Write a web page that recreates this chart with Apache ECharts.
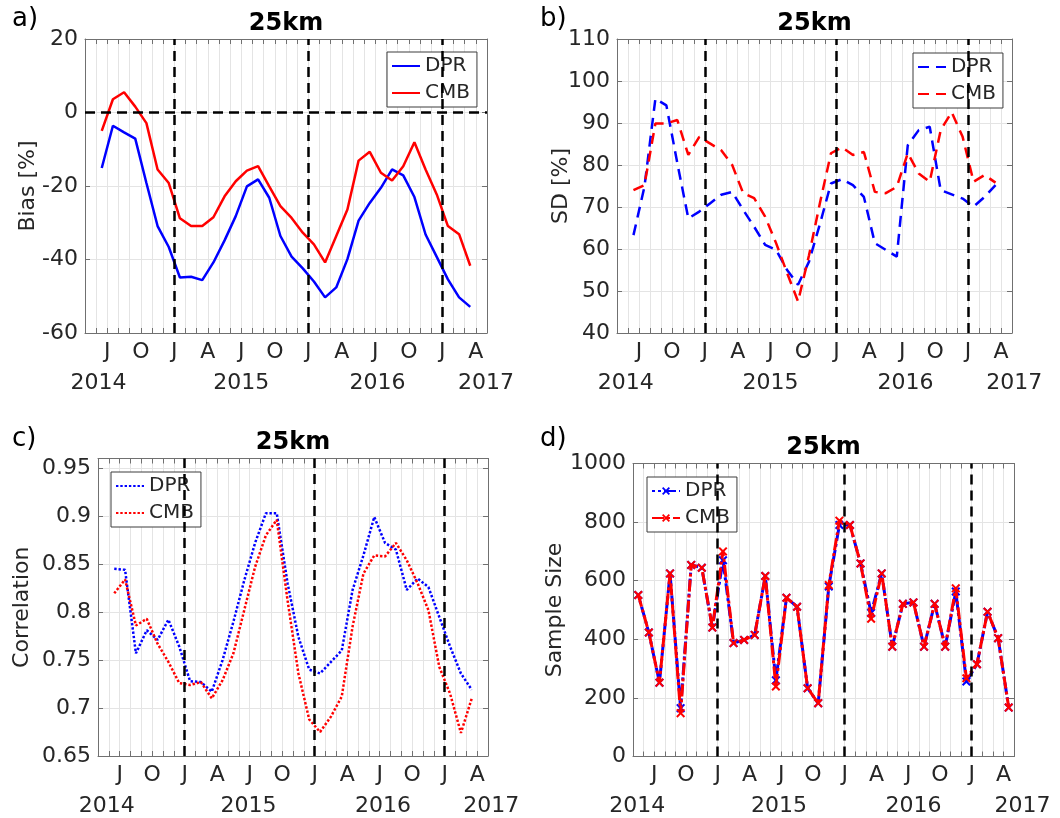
<!DOCTYPE html>
<html>
<head>
<meta charset="utf-8">
<script src="https://cdn.jsdelivr.net/npm/echarts@6/dist/echarts.min.js"></script>
<style>
html, body { margin: 0; padding: 0; background: #ffffff; }
#chart { width: 1060px; height: 818px; }
</style>
</head>
<body>
<div id="chart"></div>
<script>
// ---------------- data ----------------
const MONTH_LETTERS = ['J', 'F', 'M', 'A', 'M', 'J', 'J', 'A', 'S', 'O', 'N', 'D'];
const AXIS_FIRST_MONTH = 4;          // axis starts 1 May 2014 (0 = January)
const AXIS_MONTHS = 36;              // axis ends 1 May 2017
const YEAR_LABELS = ['2014', '2015', '2016', '2017'];
const YEAR_BREAKS = [8, 20, 32];     // 1 Jan 2015 / 2016 / 2017, months from axis start
const SERIES_NAMES = ['DPR', 'CMB'];
const PANEL_TITLE = '25km';

// panels a-c: monthly values, Jun 2014 .. Mar 2017
const FIRST_MONTH_ABC = 1;
const biasDPR = [-15.1, -3.6, -5.4, -7.1, -19.2, -30.9, -36.6, -44.9, -44.7, -45.6, -40.8, -34.8,
  -28.2, -20.1, -18.2, -23.2, -33.6, -39.2, -42.4, -46.0, -50.3, -47.6, -39.9, -29.4,
  -24.6, -20.5, -15.5, -17.1, -23.0, -33.2, -39.3, -45.4, -50.3, -52.9];
const biasCMB = [-5.0, 3.6, 5.5, 1.6, -2.9, -15.5, -19.2, -28.8, -30.9, -30.9, -28.5, -22.8,
  -18.7, -15.8, -14.6, -20.1, -25.5, -28.7, -32.7, -35.9, -40.8, -33.6, -26.4, -13.1,
  -10.7, -16.4, -18.5, -14.6, -8.1, -15.5, -22.3, -30.9, -33.1, -41.7];
const sdDPR = [63.3, 74.8, 95.8, 94.2, 80.4, 67.3, 68.9, 70.9, 72.9, 73.6, 69.3, 65.3,
  61.0, 59.8, 55.0, 51.5, 57.0, 66.0, 75.6, 76.6, 75.2, 72.4, 61.4, 59.8,
  58.2, 84.7, 88.3, 89.1, 74.0, 73.0, 72.0, 70.1, 72.4, 75.2];
const sdCMB = [74.0, 75.2, 89.9, 89.9, 90.7, 82.4, 86.7, 85.1, 83.5, 80.0, 73.3, 72.1,
  67.7, 61.4, 54.3, 47.5, 58.5, 71.0, 82.8, 84.2, 82.4, 83.1, 73.6, 73.3,
  74.8, 82.8, 78.0, 76.0, 88.3, 92.6, 86.7, 76.0, 77.6, 75.8];
const corrDPR = [0.845, 0.844, 0.757, 0.781, 0.771, 0.792, 0.764, 0.728, 0.727, 0.717, 0.750, 0.790,
  0.833, 0.872, 0.903, 0.903, 0.830, 0.774, 0.740, 0.736, 0.748, 0.760, 0.823, 0.859,
  0.899, 0.872, 0.865, 0.823, 0.835, 0.826, 0.795, 0.764, 0.736, 0.719];
const corrCMB = [0.8195, 0.834, 0.786, 0.793, 0.767, 0.748, 0.726, 0.724, 0.727, 0.710, 0.729, 0.757,
  0.802, 0.847, 0.880, 0.896, 0.812, 0.736, 0.688, 0.675, 0.691, 0.712, 0.785, 0.840,
  0.859, 0.858, 0.872, 0.854, 0.830, 0.802, 0.743, 0.715, 0.674, 0.710];

// panel d: monthly values, May 2014 .. Apr 2017
const FIRST_MONTH_D = 0;
const sizeDPR = [551, 423, 252, 625, 165, 654, 644, 440, 670, 387, 398, 415,
  616, 260, 542, 511, 233, 182, 580, 790, 790, 659, 490, 625,
  375, 521, 526, 375, 521, 375, 563, 256, 315, 494, 404, 167];
const sizeCMB = [551, 423, 252, 625, 148, 654, 644, 440, 700, 387, 398, 415,
  616, 239, 542, 511, 233, 182, 585, 805, 790, 659, 470, 625,
  375, 521, 526, 375, 521, 375, 574, 267, 315, 494, 404, 167];

// ---------------- layout / style ----------------
const FONT = '"DejaVu Sans", sans-serif';
const TEXT_COLOR = '#262626';
const FRAME_COLOR = '#707070';
const GRID_COLOR = '#e4e4e4';
const BLUE = '#0000ff';
const RED = '#ff0000';
const X_SYMBOL = 'path://M0,1.6 L1.6,0 L5,3.4 L8.4,0 L10,1.6 L6.6,5 L10,8.4 L8.4,10 L5,6.6 L1.6,10 L0,8.4 L3.4,5 Z';

const LINE_KINDS = {
  solid:   { type: 'solid', width: 2.5 },
  dashed:  { type: [11, 7], width: 2.5 },
  dotted:  { type: [2.4, 1.9], width: 2.5 },
  dashdot: { type: [12, 3, 3, 3], width: 3 }
};

const panels = [
  { label: 'a)', labelPos: [12, 6], grid: { left: 85, top: 39, width: 402, height: 294 },
    yMin: -60, yMax: 20, yStep: 20, yName: 'Bias [%]', nameGap: 46,
    dpr: biasDPR, cmb: biasCMB, first: FIRST_MONTH_ABC, kind: 'solid',
    legendPos: { left: 387, top: 52 }, titleY: 24, yearPos: [1.2, 14.0, 26.2, 35.9], zeroLine: true },
  { label: 'b)', labelPos: [540, 6], grid: { left: 617, top: 39, width: 395, height: 294 },
    yMin: 40, yMax: 110, yStep: 10, yName: 'SD [%]', nameGap: 45,
    dpr: sdDPR, cmb: sdCMB, first: FIRST_MONTH_ABC, kind: 'dashed',
    legendPos: { left: 913, top: 53 }, titleY: 24, yearPos: [0.8, 14.0, 26.3, 36.2] },
  { label: 'c)', labelPos: [12, 426], grid: { left: 98, top: 458.5, width: 390, height: 297.5 },
    yMin: 0.65, yMax: 0.96, yStep: 0.05, yName: 'Correlation', nameGap: 65,
    dpr: corrDPR, cmb: corrCMB, first: FIRST_MONTH_ABC, kind: 'dotted',
    legendPos: { left: 111, top: 472 }, titleY: 443, yearPos: [0.8, 13.9, 26.3, 36.3] },
  { label: 'd)', labelPos: [540, 426], grid: { left: 633, top: 463.5, width: 381, height: 293 },
    yMin: 0, yMax: 1000, yStep: 200, yName: 'Sample Size', nameGap: 67,
    dpr: sizeDPR, cmb: sizeCMB, first: FIRST_MONTH_D, kind: 'dashdot',
    legendPos: { left: 647, top: 477 }, titleY: 448, yearPos: [0.4, 13.8, 26.5, 36.8], markers: true }
];

function monthLabel(v) {
  const k = Math.round(v);
  const m = (AXIS_FIRST_MONTH + k) % 12;
  return (m % 3 === 0) ? MONTH_LETTERS[m] : '';
}
function yLabel(p) {
  return function (v) {
    const r = v / p.yStep;
    if (Math.abs(r - Math.round(r)) > 1e-6) return '';
    return String(+v.toFixed(2));
  };
}

const grids = [], xAxes = [], yAxes = [], series = [], legends = [];
panels.forEach((p, gi) => {
  grids.push(Object.assign({ containLabel: false }, p.grid));
  const xBase = {
    type: 'value', gridIndex: gi, min: 0, max: AXIS_MONTHS, interval: 1,
    axisLine: { show: true, onZero: false, lineStyle: { color: FRAME_COLOR, width: 1 } },
    axisTick: { show: true, inside: true, length: 5, lineStyle: { color: FRAME_COLOR } }
  };
  xAxes.push(Object.assign({}, xBase, {
    position: 'bottom',
    axisLabel: { show: true, formatter: monthLabel, color: TEXT_COLOR, fontFamily: FONT, fontSize: 22, margin: 8, showMinLabel: true, showMaxLabel: true },
    splitLine: { show: true, lineStyle: { color: GRID_COLOR, width: 1 } }
  }));
  xAxes.push(Object.assign({}, xBase, {
    position: 'top', axisLabel: { show: false }, splitLine: { show: false }
  }));
  const yBase = {
    type: 'value', gridIndex: gi, min: p.yMin, max: p.yMax, interval: p.yStep,
    axisLine: { show: true, onZero: false, lineStyle: { color: FRAME_COLOR, width: 1 } },
    axisTick: { show: true, inside: true, length: 5, lineStyle: { color: FRAME_COLOR } }
  };
  yAxes.push(Object.assign({}, yBase, {
    position: 'left',
    name: p.yName, nameLocation: 'middle', nameGap: p.nameGap, nameMoveOverlap: false,
    nameTextStyle: { color: TEXT_COLOR, fontFamily: FONT, fontSize: 22 },
    axisLabel: { show: true, formatter: yLabel(p), color: TEXT_COLOR, fontFamily: FONT, fontSize: 22, margin: 7 },
    splitLine: { show: true, lineStyle: { color: GRID_COLOR, width: 1 } }
  }));
  yAxes.push(Object.assign({}, yBase, {
    position: 'right', axisLabel: { show: false }, splitLine: { show: false }
  }));

  const lk = LINE_KINDS[p.kind];
  const ids = [gi + '|' + SERIES_NAMES[0], gi + '|' + SERIES_NAMES[1]];
  const vals = [p.dpr, p.cmb];
  const cols = [BLUE, RED];
  vals.forEach((arr, si) => {
    const s = {
      type: 'line', name: ids[si], xAxisIndex: 2 * gi, yAxisIndex: 2 * gi,
      data: arr.map((v, i) => [p.first + i + 0.5, v]),
      lineStyle: { color: cols[si], width: lk.width, type: lk.type, dashOffset: (p.kind === 'dashdot' && si === 0) ? 9 : 0 },
      itemStyle: { color: cols[si] },
      symbol: p.markers ? X_SYMBOL : 'none',
      symbolSize: 9, showSymbol: !!p.markers,
      silent: true, animation: false, z: 3 + si
    };
    if (si === 0) {
      const ml = YEAR_BREAKS.map(k => ({ xAxis: k }));
      if (p.zeroLine) ml.push({ yAxis: 0 });
      s.markLine = {
        silent: true, symbol: ['none', 'none'], animation: false,
        label: { show: false },
        lineStyle: { color: '#000000', width: 2.5, type: [10, 6] },
        data: ml
      };
    }
    series.push(s);
  });

  const lg = {
    data: ids, orient: 'vertical', left: p.legendPos.left, top: p.legendPos.top,
    formatter: n => n.split('|')[1],
    itemWidth: 28, itemHeight: p.markers ? 10 : 14, itemGap: 7,
    padding: [4, 7, 4, 4],
    backgroundColor: '#ffffff', borderColor: '#3c3c3c', borderWidth: 1,
    textStyle: { color: TEXT_COLOR, fontFamily: FONT, fontSize: 20, lineHeight: 20 },
    selectedMode: false
  };
  if (!p.markers) lg.itemStyle = { opacity: 0 };
  legends.push(lg);
});

const chart = echarts.init(document.getElementById('chart'), null, { renderer: 'canvas' });
chart.setOption({
  animation: false,
  backgroundColor: '#ffffff',
  textStyle: { fontFamily: FONT },
  grid: grids, xAxis: xAxes, yAxis: yAxes, series: series, legend: legends
});

// text annotations (titles, panel letters, year labels) tied to the axes
const graphics = [];
panels.forEach((p, gi) => {
  const cx = p.grid.left + p.grid.width / 2;
  graphics.push({ type: 'text', x: cx, y: p.titleY, silent: true,
    style: { text: PANEL_TITLE, fill: '#000000', font: 'bold 24px ' + FONT, align: 'center', verticalAlign: 'middle' } });
  graphics.push({ type: 'text', x: p.labelPos[0], y: p.labelPos[1], silent: true,
    style: { text: p.label, fill: '#000000', font: '26px ' + FONT, align: 'left', verticalAlign: 'top' } });
  const yy = p.grid.top + p.grid.height + 50;
  p.yearPos.forEach((k, j) => {
    const px = chart.convertToPixel({ xAxisIndex: 2 * gi }, k);
    graphics.push({ type: 'text', x: px, y: yy, silent: true,
      style: { text: YEAR_LABELS[j], fill: TEXT_COLOR, font: '22px ' + FONT, align: 'center', verticalAlign: 'middle' } });
  });
});
chart.setOption({ graphic: graphics });
</script>
</body>
</html>
